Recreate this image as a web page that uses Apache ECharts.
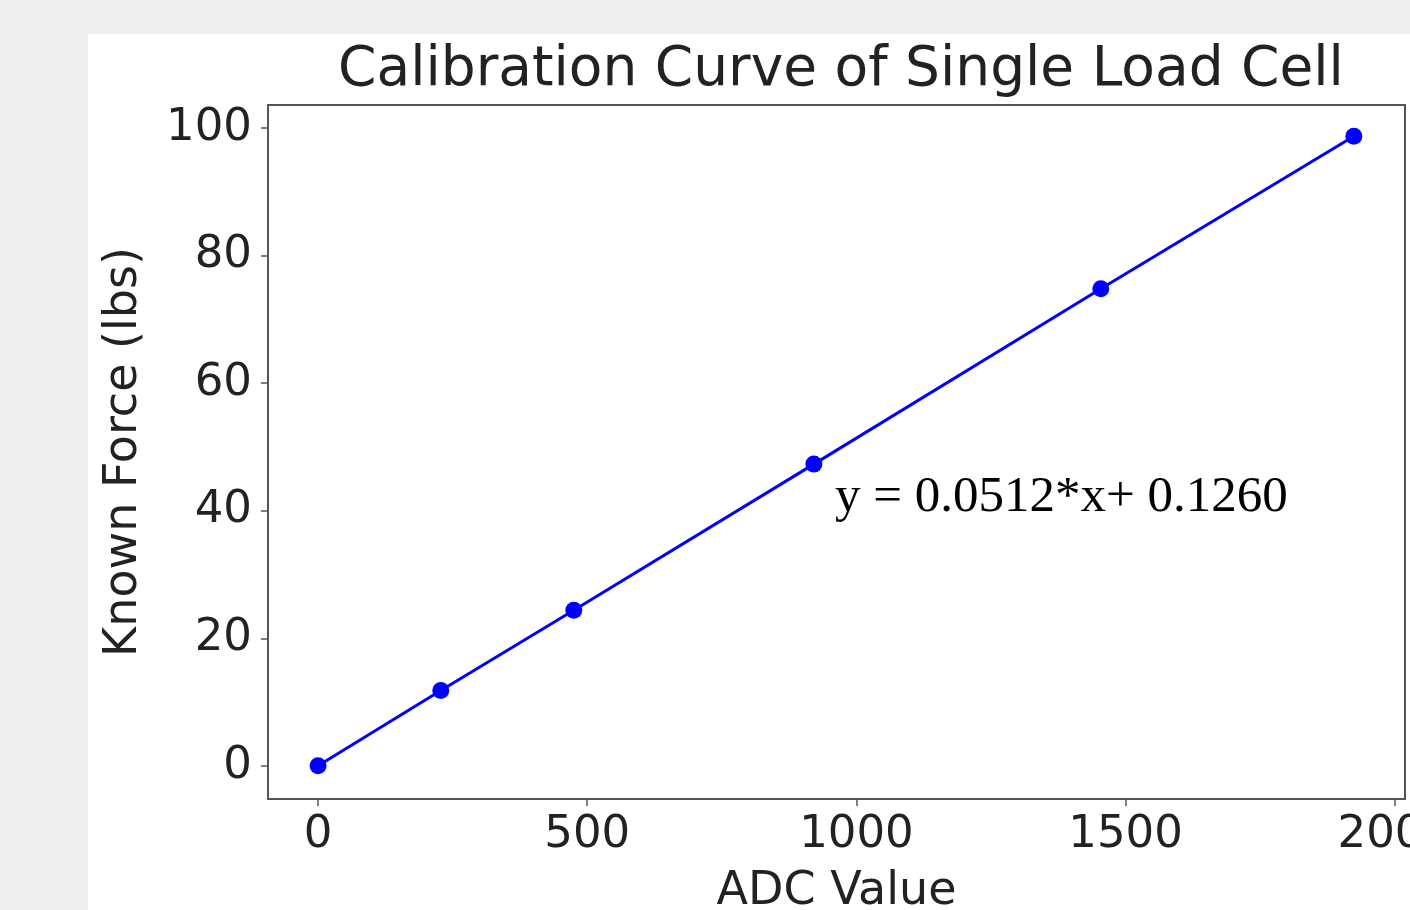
<!DOCTYPE html>
<html>
<head>
<meta charset="utf-8">
<script src="https://cdn.jsdelivr.net/npm/echarts@6/dist/echarts.min.js"></script>
<style>
  html, body { margin: 0; padding: 0; background: #efefef; }
  #chart { width: 1410px; height: 910px; }
</style>
</head>
<body>
<div id="chart"></div>
<script>
// calibration points
const adcValues = [0, 228, 475, 921, 1454, 1924]
const knownForce = [0, 11.8, 24.4, 47.3, 74.8, 98.7]
const xTicks = [0, 500, 1000, 1500, 2000]
const yTicks = [0, 20, 40, 60, 80, 100]
const fitText = 'y = 0.0512*x+ 0.1260'
const fitAnchor = [960, 38.1]

const chart = echarts.init(document.getElementById('chart'))
const font = 'DejaVu Sans'
const frame = '#555555'
const panel = {
    type: 'rect',
    z: -10,
    shape: { x: 88, y: 34, width: 1322, height: 876 },
    style: { fill: '#ffffff' }
}

const option = {
    animation: false,
    backgroundColor: '#efefef',
    graphic: [panel],
    title: {
        text: 'Calibration Curve of Single Load Cell',
        left: 836,
        top: 38,
        textAlign: 'center',
        textStyle: { fontFamily: font, fontSize: 55, fontWeight: 'normal', color: '#222' }
    },
    grid: {
        left: 268,
        top: 105,
        width: 1137,
        height: 694,
        containLabel: false,
        outerBoundsMode: 'none',
        show: true,
        borderColor: frame,
        borderWidth: 2,
        backgroundColor: '#ffffff'
    },
    xAxis: {
        type: 'value',
        min: -93,
        max: 2019,
        name: 'ADC Value',
        nameLocation: 'middle',
        nameGap: 70,
        nameTextStyle: { fontFamily: font, fontSize: 46, color: '#222' },
        axisLine: { show: true, onZero: false, lineStyle: { color: frame, width: 2 } },
        axisTick: { show: true, customValues: xTicks, length: 7, lineStyle: { color: frame, width: 1.5 } },
        axisLabel: {
            customValues: xTicks, margin: 14, fontFamily: font, fontSize: 45, color: '#222',
            formatter: v => String(v)
        },
        splitLine: { show: false }
    },
    yAxis: {
        type: 'value',
        min: -5.2,
        max: 103.6,
        name: 'Known Force (lbs)',
        nameLocation: 'middle',
        nameGap: 121,
        nameTextStyle: { fontFamily: font, fontSize: 46, color: '#222' },
        axisLine: { show: true, onZero: false, lineStyle: { color: frame, width: 2 } },
        axisTick: { show: true, customValues: yTicks, length: 7, lineStyle: { color: frame, width: 1.5 } },
        axisLabel: {
            customValues: yTicks, margin: 16, fontFamily: font, fontSize: 45, color: '#222',
            formatter: v => String(v)
        },
        splitLine: { show: false }
    },
    series: [
        {
            type: 'line',
            data: adcValues.map((x, i) => [x, knownForce[i]]),
            symbol: 'circle',
            symbolSize: 17,
            showAllSymbol: true,
            lineStyle: { color: '#0000ff', width: 3 },
            itemStyle: { color: '#0000ff' }
        }
    ]
}

chart.setOption(option)

// fit equation anchored in data coordinates
const p = chart.convertToPixel({ gridIndex: 0 }, fitAnchor)
chart.setOption({
    graphic: [
        panel,
        {
            type: 'text',
            z: 100,
            x: p[0],
            y: p[1],
            style: {
                text: fitText,
                font: '51px "Liberation Serif"',
                fill: '#000',
                textVerticalAlign: 'bottom'
            }
        }
    ]
})
</script>
</body>
</html>
